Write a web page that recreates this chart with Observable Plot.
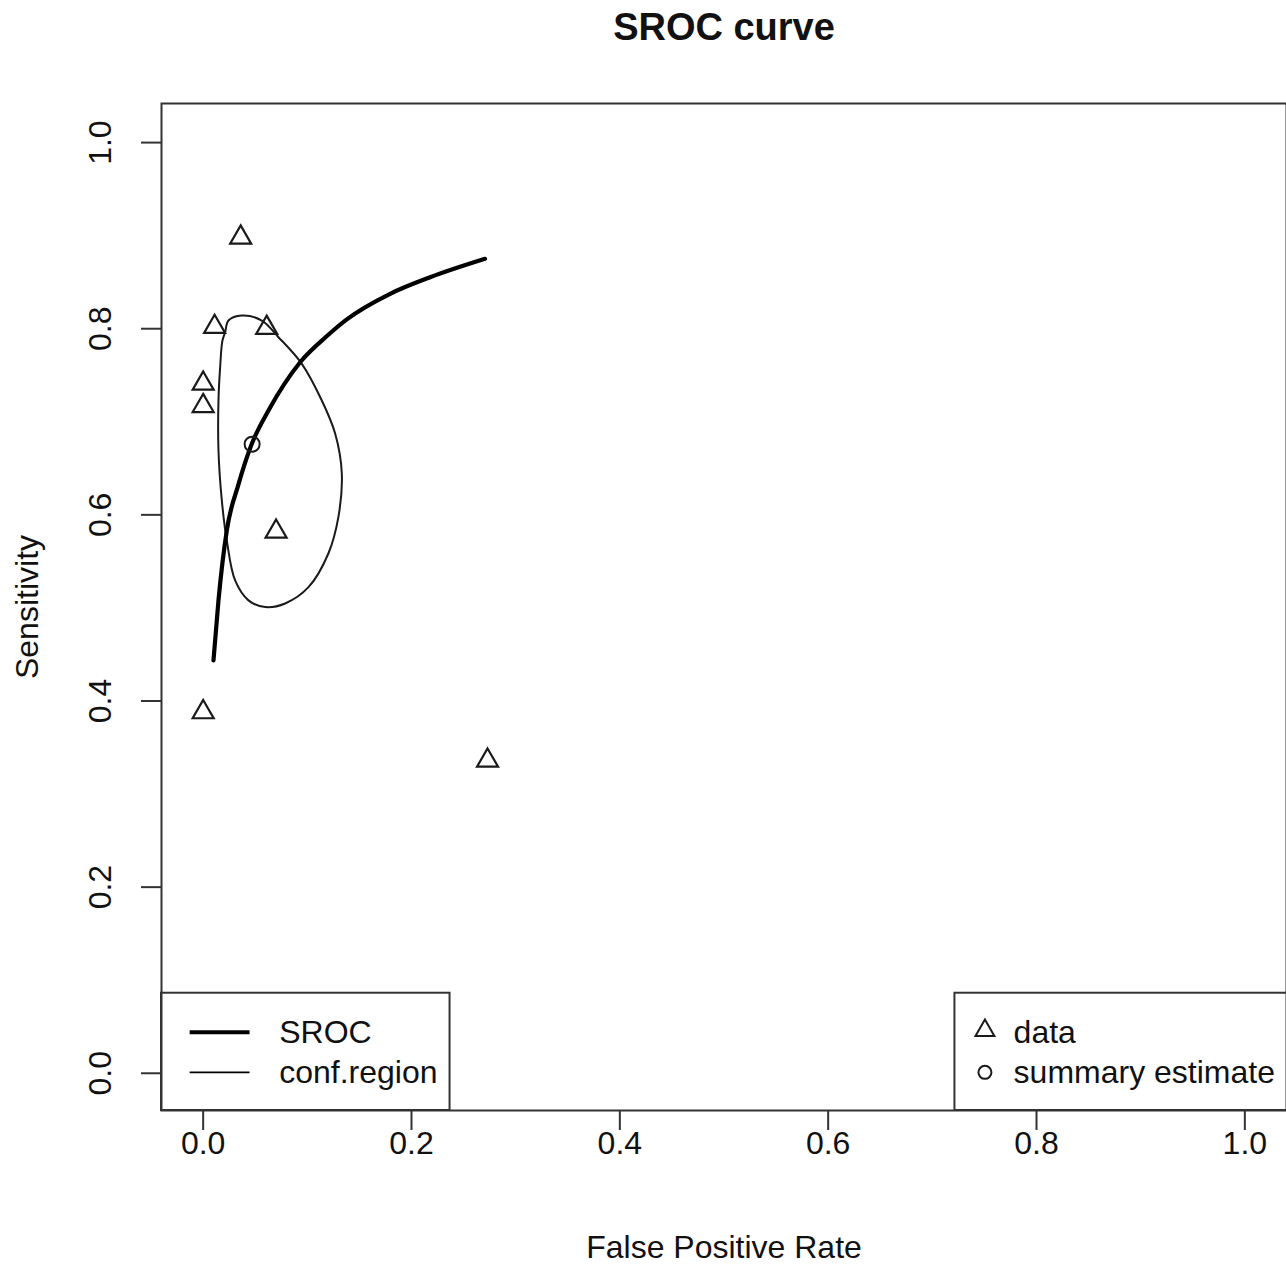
<!DOCTYPE html>
<html>
<head>
<meta charset="utf-8">
<script src="https://cdn.jsdelivr.net/npm/d3@7"></script>
<script src="https://cdn.jsdelivr.net/npm/@observablehq/plot@0.6"></script>
<style>
  html, body { margin: 0; padding: 0; background: #fff; }
  #chart { width: 1286px; height: 1266px; }
</style>
</head>
<body>
<div id="chart"></div>
<script>
// ---- data ----
const studyFpr  = [0.036, 0.011, 0.061, 0.000, 0.000, 0.070, 0.000, 0.273];
const studySens = [0.898, 0.802, 0.801, 0.741, 0.717, 0.582, 0.388, 0.336];

const summaryFpr = [0.047];
const summarySens = [0.676];

const srocFpr  = [0.0099, 0.0147, 0.0227, 0.0339, 0.0467, 0.0627, 0.0931, 0.1202, 0.1379, 0.1795, 0.2179, 0.2706];
const srocSens = [0.4436, 0.5081, 0.5833, 0.6327, 0.6764, 0.7121, 0.7640, 0.7935, 0.8100, 0.8375, 0.8553, 0.8751];

const confFpr  = [0.0371, 0.0563, 0.0723, 0.0947, 0.1139, 0.1267, 0.1331, 0.1298, 0.1202, 0.1011, 0.0787, 0.0595, 0.0435, 0.0307, 0.0227, 0.0179, 0.0147, 0.0147, 0.0163, 0.0185, 0.0211, 0.0243];
const confSens = [0.8142, 0.8088, 0.7909, 0.7623, 0.7229, 0.6874, 0.6445, 0.5975, 0.5585, 0.5223, 0.5048, 0.5009, 0.5081, 0.5295, 0.5725, 0.6155, 0.6692, 0.7229, 0.7587, 0.7873, 0.7962, 0.8088];

const tickValues = [0, 0.2, 0.4, 0.6, 0.8, 1.0];
const tickLabels = ["0.0", "0.2", "0.4", "0.6", "0.8", "1.0"];

const titleText = "SROC curve";
const xTitle = "False Positive Rate";
const yTitle = "Sensitivity";
const lineLegendLabels = ["SROC", "conf.region"];
const pointLegendLabels = ["data", "summary estimate"];

// ---- build tables ----
const studies = studyFpr.map((x, i) => ({x, y: studySens[i]}));
const summary = summaryFpr.map((x, i) => ({x, y: summarySens[i]}));
const sroc = srocFpr.map((x, i) => ({x, y: srocSens[i]}));
const conf = confFpr.map((x, i) => ({x, y: confSens[i]}));
const yTicks = tickValues.map((v, i) => ({v, label: tickLabels[i]}));

const xDomain = [-0.04, 1.04];
const yDomain = [-0.04, 1.042];

// legend layout in data units (anchored to the frame's lower corners)
const legTop = 0.086;
const leftLeg = {x1: xDomain[0], x2: 0.237, y1: yDomain[0], y2: legTop};
const rightLeg = {x1: 0.7217, x2: xDomain[1] + 0.01, y1: yDomain[0], y2: legTop};
const rowY = [0.044, 0.001];
const lineSamples = [
  {x1: -0.0125, x2: 0.045, y: rowY[0], w: 4},
  {x1: -0.0125, x2: 0.045, y: rowY[1], w: 1.8}
];
const lineLegendText = lineLegendLabels.map((t, i) => ({x: 0.073, y: rowY[i], t}));
const pointLegendText = pointLegendLabels.map((t, i) => ({x: 0.778, y: rowY[i], t}));

const font = "Liberation Sans, Arial, Helvetica, sans-serif";
const ink = "#111";

const chart = Plot.plot({
  width: 1286,
  height: 1266,
  marginLeft: 161,
  marginRight: 0,
  marginTop: 103,
  marginBottom: 156,
  style: {fontFamily: font, background: "#fff"},
  x: {domain: xDomain, label: null},
  y: {domain: yDomain, label: null},
  marks: [
    // axes
    Plot.axisX({ticks: tickValues, tickSize: 20, tickPadding: 1, tickFormat: (d, i) => tickLabels[i],
      fontSize: 32, stroke: "#333", strokeWidth: 2, fill: ink, label: null}),
    Plot.axisY({ticks: tickValues, tickSize: 20, tickFormat: () => "", stroke: "#333", strokeWidth: 2, label: null}),
    Plot.text(yTicks, {y: "v", text: "label", frameAnchor: "left", dx: -61, rotate: -90,
      fontSize: 32, fill: ink, textAnchor: "middle", lineAnchor: "middle"}),
    // titles
    Plot.text([titleText], {frameAnchor: "top", dy: -76, fontSize: 38, fontWeight: "bold", fill: ink, lineAnchor: "middle"}),
    Plot.text([xTitle], {frameAnchor: "bottom", dy: 137, fontSize: 32, fill: ink, lineAnchor: "middle"}),
    Plot.text([yTitle], {frameAnchor: "left", dx: -134, rotate: -90, fontSize: 32, fill: ink, textAnchor: "middle", lineAnchor: "middle"}),
    // conf region
    Plot.line(conf, {x: "x", y: "y", curve: "catmull-rom-closed", stroke: "#1a1a1a", strokeWidth: 2}),
    // SROC curve
    Plot.line(sroc, {x: "x", y: "y", curve: "monotone-x", stroke: "#000", strokeWidth: 4.2}),
    // study points
    Plot.dot(studies, {x: "x", y: "y", symbol: "triangle", r: 7.8, stroke: "#1a1a1a", strokeWidth: 2.2, fill: "none"}),
    // summary point
    Plot.dot(summary, {x: "x", y: "y", symbol: "circle", r: 7.5, stroke: "#1a1a1a", strokeWidth: 2, fill: "none"}),
    // legends
    Plot.rect([leftLeg, rightLeg], {x1: "x1", x2: "x2", y1: "y1", y2: "y2", fill: "#fff", stroke: "#333", strokeWidth: 2}),
    Plot.ruleY(lineSamples, {x1: "x1", x2: "x2", y: "y", stroke: "#000", strokeWidth: "w"}),
    Plot.text(lineLegendText, {x: "x", y: "y", text: "t", textAnchor: "start", fontSize: 32, fill: ink}),
    Plot.dot([{x: 0.7505, y: rowY[0] + 0.002}], {x: "x", y: "y", symbol: "triangle", r: 7, stroke: "#1a1a1a", strokeWidth: 2, fill: "none"}),
    Plot.dot([{x: 0.7505, y: rowY[1]}], {x: "x", y: "y", symbol: "circle", r: 6.5, stroke: "#1a1a1a", strokeWidth: 2, fill: "none"}),
    Plot.text(pointLegendText, {x: "x", y: "y", text: "t", textAnchor: "start", fontSize: 32, fill: ink}),
    Plot.frame({stroke: "#333", strokeWidth: 2})
  ]
});

document.getElementById("chart").appendChild(chart);
</script>
</body>
</html>
